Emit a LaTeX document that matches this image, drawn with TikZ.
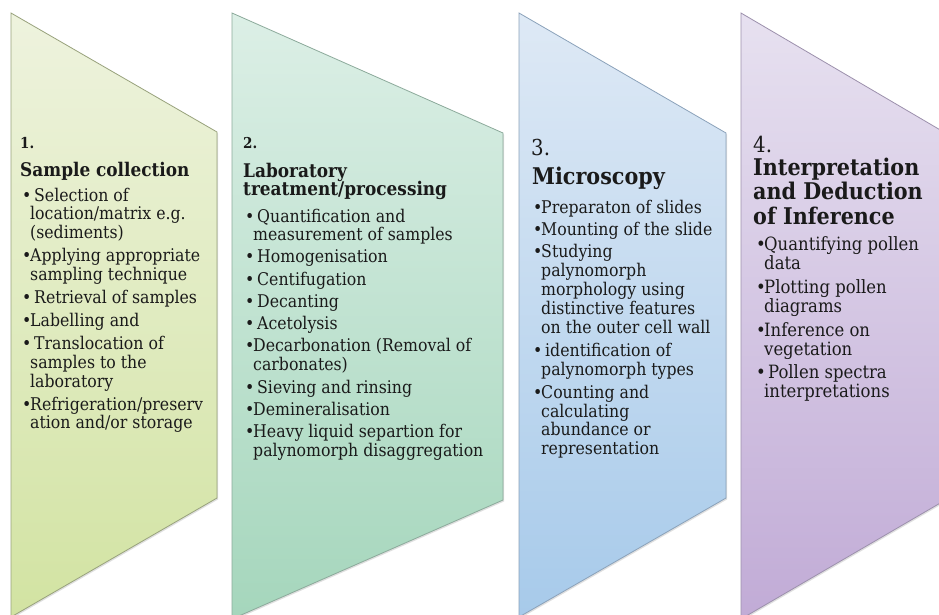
\documentclass[tikz,border=0pt]{standalone}
\usepackage{fontspec}
\setmainfont{DejaVu Serif Condensed}
\usetikzlibrary{shadows}
\definecolor{aTop}{HTML}{EEF3DE}\definecolor{aBot}{HTML}{D2E3A2}\definecolor{aLine}{HTML}{98A27C}
\definecolor{bTop}{HTML}{DCEFE6}\definecolor{bBot}{HTML}{A5D6BC}\definecolor{bLine}{HTML}{8CAA9B}
\definecolor{cTop}{HTML}{DEE9F5}\definecolor{cBot}{HTML}{A7CAEA}\definecolor{cLine}{HTML}{8BA2BA}
\definecolor{dTop}{HTML}{E7E1F0}\definecolor{dBot}{HTML}{C1ABD6}\definecolor{dLine}{HTML}{9C90AC}
\definecolor{ink}{HTML}{1A1A1A}
\newcommand\bul{\makebox[8pt][l]{\textbullet}}
\newcommand\ind{\hspace*{8pt}}
\newcommand\lsp{\hspace{4pt}}
\newcommand\lines[1]{\begin{tabular}[t]{@{}l@{}}#1\end{tabular}}
\tikzset{
  panel/.style={line width=0.8pt, drop shadow={shadow xshift=1pt, shadow yshift=-1.5pt, opacity=0.25}},
  numtxt/.style={anchor=base west, inner sep=0pt, text=ink, font=\fontsize{15}{18}\selectfont\bfseries},
  bignum/.style={anchor=base west, inner sep=0pt, text=ink, font=\fontsize{22}{24}\selectfont},
  headtxt/.style={anchor=base west, inner sep=0pt, text=ink, font=\fontsize{18.8}{17.5}\selectfont\bfseries},
  bighead/.style={anchor=base west, inner sep=0pt, text=ink, font=\fontsize{23}{24}\selectfont\bfseries},
  listtxt/.style={anchor=base west, inner sep=0pt, text=ink, font=\fontsize{17.5}{18.7}\selectfont},
  listtight/.style={listtxt, font=\fontsize{17.5}{18.5}\selectfont},
  listbig/.style={listtxt, font=\fontsize{18.3}{18.7}\selectfont}
}
\begin{document}
\begin{tikzpicture}[x=1pt,y=-1pt]
\useasboundingbox (0,0) rectangle (939,614);
\fill[white] (0,0) rectangle (939,614);
% panels
\draw[panel, draw=aLine, top color=aTop, bottom color=aBot] (11,13) -- (217,132) -- (217,498) -- (11,617) -- cycle;
\draw[panel, draw=bLine, top color=bTop, bottom color=bBot] (232,13) -- (503,133) -- (503,500) -- (232,619) -- cycle;
\draw[panel, draw=cLine, top color=cTop, bottom color=cBot] (519,13) -- (726,133) -- (726,498) -- (519,617) -- cycle;
\draw[panel, draw=dLine, top color=dTop, bottom color=dBot] (741,13) -- (942,131) -- (942,502) -- (741,619) -- cycle;
% panel 1
\node[numtxt] (n1) at (20,148) {1.};
\node[headtxt] (h1) at (20,176) {Sample collection};
\node[listtxt] (l1) at (22,201) {\lines{\bul\lsp Selection of\\
\ind location/matrix e.g.\\
\ind (sediments)\\[4pt]
\bul Applying appropriate\\
\ind sampling technique\\[4pt]
\bul\lsp Retrieval of samples\\[4pt]
\bul Labelling and\\[4pt]
\bul\lsp Translocation of\\
\ind samples to the\\
\ind laboratory\\[4pt]
\bul Refrigeration/preserv\\
\ind ation and/or storage}};
% panel 2
\node[numtxt] (n2) at (243,148) {2.};
\node[headtxt] (h2) at (243,177) {\lines{Laboratory\\[-1pt]treatment/processing}};
\node[listtight] (l2) at (245,222) {\lines{\bul\lsp Quantification and\\
\ind measurement of samples\\[3.5pt]
\bul\lsp Homogenisation\\[3.5pt]
\bul\lsp Centifugation\\[3.5pt]
\bul\lsp Decanting\\[3.5pt]
\bul\lsp Acetolysis\\[3.5pt]
\bul Decarbonation (Removal of\\
\ind carbonates)\\[3.5pt]
\bul\lsp Sieving and rinsing\\[3.5pt]
\bul Demineralisation\\[3.5pt]
\bul Heavy liquid separtion for\\
\ind palynomorph disaggregation}};
% panel 3
\node[bignum] (n3) at (531,155) {3.};
\node[bighead] (h3) at (532,184) {Microscopy};
\node[listtxt] (l3) at (533,213) {\lines{\bul Preparaton of slides\\[3.5pt]
\bul Mounting of the slide\\[3.5pt]
\bul Studying\\
\ind palynomorph\\
\ind morphology using\\
\ind distinctive features\\
\ind on the outer cell wall\\[4pt]
\bul\lsp identification of\\
\ind palynomorph types\\[4pt]
\bul Counting and\\
\ind calculating\\
\ind abundance or\\
\ind representation}};
% panel 4
\node[bignum] (n4) at (753,152) {4.};
\node[bighead] (h4) at (753,175) {\lines{Interpretation\\and Deduction\\of Inference}};
\node[listbig] (l4) at (756,250) {\lines{\bul Quantifying pollen\\
\ind data\\[4pt]
\bul Plotting pollen\\
\ind diagrams\\[4pt]
\bul Inference on\\
\ind vegetation\\[4pt]
\bul\lsp Pollen spectra\\
\ind interpretations}};
\end{tikzpicture}
\end{document}
